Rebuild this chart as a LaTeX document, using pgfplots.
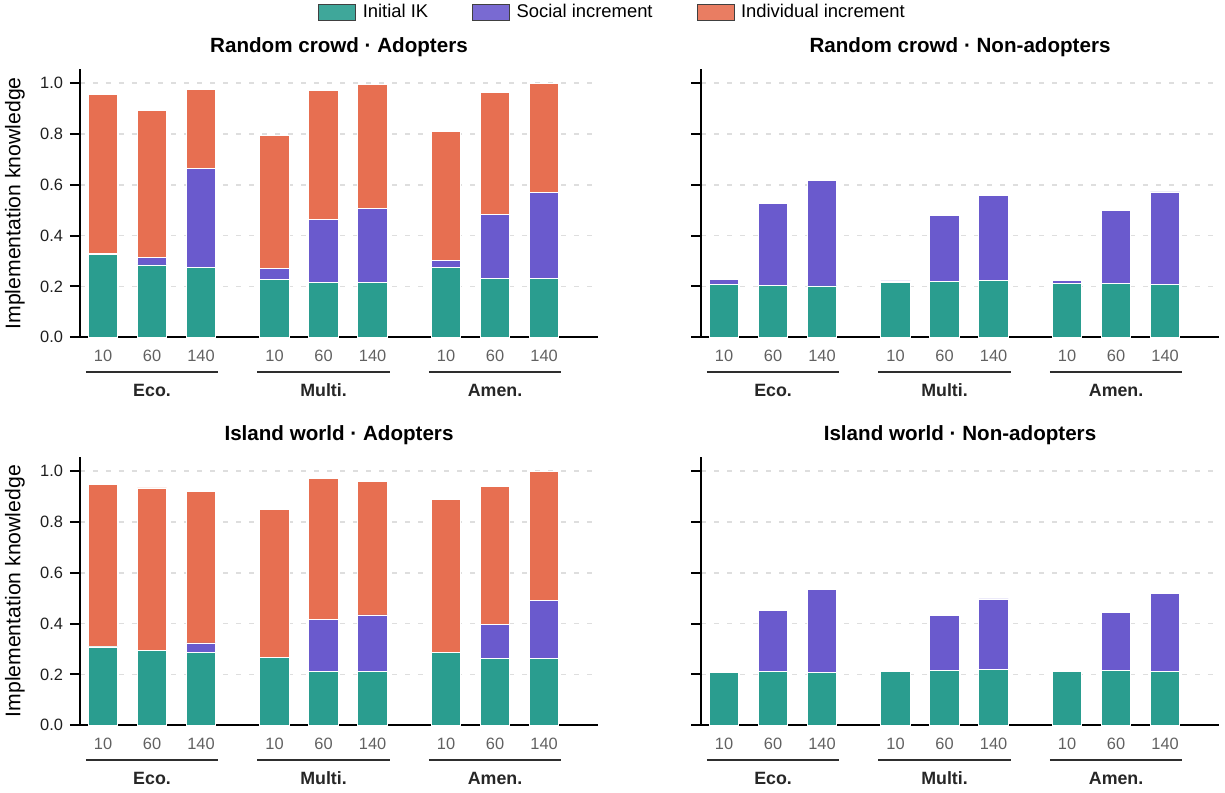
\documentclass[border=0pt]{standalone}
\usepackage{pgfplots}
\usepackage{pgfplotstable}
\pgfplotsset{compat=1.18}
\usepackage{fontspec}
\setmainfont{Liberation Sans}
\definecolor{ikc}{HTML}{2A9D8F}
\definecolor{socc}{HTML}{6A5ACD}
\definecolor{indc}{HTML}{E76F51}

\pgfplotstableread{
x   ik    soc   ind
0   0.325 0.004 0.628
1   0.285 0.030 0.579
2   0.274 0.389 0.312
3.5 0.228 0.042 0.523
4.5 0.215 0.248 0.509
5.5 0.215 0.292 0.488
7   0.276 0.027 0.509
8   0.232 0.251 0.480
9   0.232 0.338 0.430
}\tRA
\pgfplotstableread{
x   ik    soc   ind
0   0.209 0.019 0
1   0.205 0.323 0
2   0.202 0.417 0
3.5 0.215 0.007 0
4.5 0.220 0.259 0
5.5 0.223 0.336 0
7   0.211 0.013 0
8   0.213 0.287 0
9   0.207 0.365 0
}\tRN
\pgfplotstableread{
x   ik    soc   ind
0   0.308 0.002 0.638
1   0.294 0.002 0.638
2   0.288 0.036 0.597
3.5 0.265 0.000 0.584
4.5 0.210 0.207 0.555
5.5 0.210 0.224 0.527
7   0.287 0.000 0.600
8   0.262 0.134 0.545
9   0.262 0.228 0.510
}\tIA
\pgfplotstableread{
x   ik    soc   ind
0   0.207 0.000 0
1   0.210 0.242 0
2   0.207 0.326 0
3.5 0.212 0.000 0
4.5 0.216 0.215 0
5.5 0.219 0.278 0
7   0.210 0.000 0
8   0.215 0.229 0
9   0.210 0.308 0
}\tIN

\pgfplotsset{
  panel/.style={
    scale only axis, width=259pt, height=134pt,
    xmin=-0.47, xmax=10.1, ymin=0, ymax=1.055,
    axis x line*=bottom, axis y line*=left,
    axis line style={line width=1.1pt, black},
    ybar stacked, bar width=0.6,
    xtick={0,1,2,3.5,4.5,5.5,7,8,9},
    xticklabels={10,60,140,10,60,140,10,60,140},
    ytick={0,0.2,0.4,0.6,0.8,1},
    major x tick style={draw=none},
    major y tick style={line width=1pt, black},
    tick align=outside,
    major tick length=5pt,
    ymajorgrids,
    major grid style={dash pattern=on 2.5pt off 4pt, color=black!13, line width=0.8pt},
    xticklabel style={font=\fontsize{8.2}{10}\selectfont, text=black!62, yshift=2pt},
    yticklabel style={font=\fontsize{8.2}{10}\selectfont, text=black!88},
    title style={font=\fontsize{10.3}{12}\selectfont\bfseries, at={(0.5,1)}, anchor=center, yshift=5.2pt},
    every axis y label/.style={at={(axis description cs:-0.1255,0.5)}, rotate=90, anchor=center, font=\fontsize{10.6}{12}\selectfont},
    clip=false,
  },
  ikbar/.style={fill=ikc, draw=white, line width=0.4pt},
  socbar/.style={fill=socc, draw=white, line width=0.4pt},
  indbar/.style={fill=indc, draw=white, line width=0.4pt},
}
\newcommand\grouplabels{%
  \draw[line width=1pt, black!82] ([yshift=-17.4pt]axis cs:-0.35,0) -- ([yshift=-17.4pt]axis cs:2.35,0);
  \draw[line width=1pt, black!82] ([yshift=-17.4pt]axis cs:3.15,0) -- ([yshift=-17.4pt]axis cs:5.85,0);
  \draw[line width=1pt, black!82] ([yshift=-17.4pt]axis cs:6.65,0) -- ([yshift=-17.4pt]axis cs:9.35,0);
  \node[font=\fontsize{8.9}{10}\selectfont\bfseries, text=black!85] at ([yshift=-26.6pt]axis cs:1,0) {Eco.};
  \node[font=\fontsize{8.9}{10}\selectfont\bfseries, text=black!85] at ([yshift=-26.6pt]axis cs:4.5,0) {Multi.};
  \node[font=\fontsize{8.9}{10}\selectfont\bfseries, text=black!85] at ([yshift=-26.6pt]axis cs:8,0) {Amen.};
}

\begin{document}
\begin{tikzpicture}
\useasboundingbox (0,0) rectangle (612.5pt,-396pt);

\begin{axis}[panel, at={(40pt,-34.65pt)}, anchor=north west,
  title={Random crowd · Adopters},
  yticklabels={0.0,0.2,0.4,0.6,0.8,1.0},
  ylabel={Implementation knowledge},
  legend style={at={(1.03,1.212)}, anchor=center, legend columns=3, draw=none, fill=none,
    font=\fontsize{9.2}{10}\selectfont,
    /tikz/every odd column/.append style={column sep=1.2pt},
    /tikz/every even column/.append style={column sep=20pt}},
  legend image code/.code={\draw[#1, fill opacity=0.9, draw=black!75, line width=0.5pt] (0pt,-3.8pt) rectangle (18.5pt,3.8pt);},
]
\addplot[ikbar] table[x=x,y=ik]{\tRA};
\addplot[socbar] table[x=x,y=soc]{\tRA};
\addplot[indbar] table[x=x,y=ind]{\tRA};
\legend{Initial IK, Social increment, Individual increment}
\grouplabels
\end{axis}

\begin{axis}[panel, at={(350.5pt,-34.65pt)}, anchor=north west,
  title={Random crowd · Non-adopters},
  yticklabels={},
]
\addplot[ikbar] table[x=x,y=ik]{\tRN};
\addplot[socbar] table[x=x,y=soc]{\tRN};
\addplot[indbar] table[x=x,y=ind]{\tRN};
\grouplabels
\end{axis}

\begin{axis}[panel, at={(40pt,-228.6pt)}, anchor=north west,
  title={Island world · Adopters},
  yticklabels={0.0,0.2,0.4,0.6,0.8,1.0},
  ylabel={Implementation knowledge},
]
\addplot[ikbar] table[x=x,y=ik]{\tIA};
\addplot[socbar] table[x=x,y=soc]{\tIA};
\addplot[indbar] table[x=x,y=ind]{\tIA};
\grouplabels
\end{axis}

\begin{axis}[panel, at={(350.5pt,-228.6pt)}, anchor=north west,
  title={Island world · Non-adopters},
  yticklabels={},
]
\addplot[ikbar] table[x=x,y=ik]{\tIN};
\addplot[socbar] table[x=x,y=soc]{\tIN};
\addplot[indbar] table[x=x,y=ind]{\tIN};
\grouplabels
\end{axis}
\end{tikzpicture}
\end{document}
